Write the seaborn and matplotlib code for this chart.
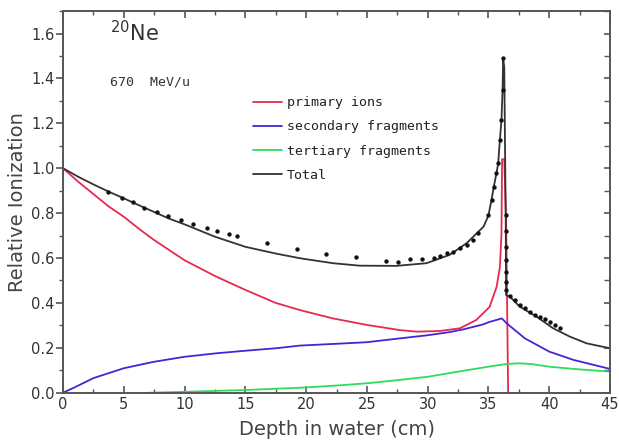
import numpy as np
import pandas as pd
import matplotlib
matplotlib.use("Agg")
import matplotlib.pyplot as plt
import matplotlib.lines as mlines
import seaborn as sns
from matplotlib.ticker import MultipleLocator

# ---- data ----
tot_x = [0, 1.25, 2.5, 3.87, 5, 6.25, 7.5, 8.75, 10, 12.5, 15, 17.5, 19.5, 22.2, 24.4,
         27.4, 29.9, 31.8, 33.2, 34.6, 35.0, 35.25, 35.44, 35.66, 35.80, 35.94, 36.07,
         36.16, 36.21, 36.3, 36.42, 36.45, 36.76, 37.58, 38.95, 40.32, 41.69, 43.07, 45]
tot_y = [1.0, 0.962, 0.928, 0.893, 0.866, 0.835, 0.805, 0.775, 0.75, 0.695, 0.65, 0.62,
         0.599, 0.577, 0.566, 0.565, 0.577, 0.614, 0.666, 0.74, 0.79, 0.859, 0.918, 0.978,
         1.022, 1.126, 1.215, 1.349, 1.49, 1.45, 0.77, 0.435, 0.428, 0.383, 0.339, 0.287,
         0.25, 0.22, 0.198]

prim_x = [0, 1.25, 2.5, 3.75, 5, 6.25, 7.5, 8.75, 10, 12.5, 15, 17.5, 19.5, 22.2, 25,
          27.7, 29.1, 31.0, 32.65, 34.0, 35.1, 35.67, 35.94, 36.07, 36.12, 36.3, 36.45, 36.62]
prim_y = [1.0, 0.94, 0.885, 0.83, 0.784, 0.73, 0.68, 0.635, 0.59, 0.52, 0.458, 0.40,
          0.368, 0.331, 0.302, 0.279, 0.272, 0.275, 0.287, 0.324, 0.383, 0.472, 0.56,
          0.71, 1.04, 1.04, 0.77, 0.0]

sec_x = [0, 1, 2.5, 5, 7.5, 10, 12.5, 15, 17.5, 19.5, 22.5, 25, 27.7, 30, 31.8, 33,
         34.6, 35, 36.1, 36.5, 38, 40, 42, 45]
sec_y = [0, 0.025, 0.065, 0.109, 0.138, 0.16, 0.175, 0.187, 0.198, 0.21, 0.218, 0.225,
         0.242, 0.256, 0.27, 0.283, 0.305, 0.314, 0.331, 0.309, 0.242, 0.183, 0.146, 0.106]

ter_x = [7.1, 10, 15, 19.5, 22.5, 25, 27.7, 30, 33.2, 35, 36.5, 37.5, 38.5, 40, 42, 45]
ter_y = [0.0, 0.004, 0.012, 0.022, 0.032, 0.042, 0.057, 0.071, 0.1, 0.116, 0.128, 0.131,
         0.128, 0.116, 0.106, 0.094]

dot_x = [3.73, 4.82, 5.79, 6.69, 7.70, 8.66, 9.70, 10.72, 11.82, 12.64, 13.68, 14.28,
         16.75, 19.22, 21.63, 24.1, 26.56, 27.57, 28.54, 29.5, 30.51, 31.0, 31.55, 32.1,
         32.65, 33.2, 33.74, 34.15, 34.98, 35.25, 35.44, 35.66, 35.80, 35.94, 36.07,
         36.16, 36.21, 36.43, 36.43, 36.43, 36.43, 36.43, 36.43, 36.45, 36.76, 37.17,
         37.58, 37.99, 38.40, 38.82, 39.23, 39.64, 40.05, 40.46, 40.87]
dot_y = [0.893, 0.869, 0.848, 0.824, 0.804, 0.787, 0.770, 0.752, 0.735, 0.72, 0.707, 0.698,
         0.668, 0.640, 0.618, 0.603, 0.588, 0.584, 0.596, 0.597, 0.602, 0.609, 0.621, 0.628,
         0.643, 0.658, 0.68, 0.71, 0.792, 0.859, 0.918, 0.978, 1.022, 1.126, 1.215,
         1.349, 1.49, 0.79, 0.72, 0.65, 0.59, 0.54, 0.495, 0.458, 0.431, 0.413,
         0.391, 0.376, 0.361, 0.346, 0.339, 0.327, 0.316, 0.302, 0.29]

series_names = ["primary ions", "secondary fragments", "tertiary fragments", "Total"]
series_colors = ["#e8294f", "#4a22d4", "#2fdc5e", "#333333"]

frames = []
for name, xs, ys in zip(series_names, [prim_x, sec_x, ter_x, tot_x],
                        [prim_y, sec_y, ter_y, tot_y]):
    frames.append(pd.DataFrame({"depth": xs, "ion": ys, "series": name}))
df = pd.concat(frames, ignore_index=True)
dots = pd.DataFrame({"depth": dot_x, "ion": dot_y})

sns.set_theme(style="ticks")
plt.rcParams["font.family"] = ["DejaVu Sans"]

fig = plt.figure(figsize=(6.19, 4.45), dpi=100)
ax = fig.add_axes([0.1018, 0.1175, 0.8837, 0.8575])

sns.lineplot(data=df, x="depth", y="ion", hue="series", hue_order=series_names,
             palette=series_colors, estimator=None, sort=False, linewidth=1.3, ax=ax)
sns.scatterplot(data=dots, x="depth", y="ion", color="#111111", s=10, linewidth=0,
                ax=ax, legend=False, zorder=5)

ax.set_xlim(0, 45)
ax.set_ylim(0, 1.7)
ax.xaxis.set_major_locator(MultipleLocator(5))
ax.xaxis.set_minor_locator(MultipleLocator(2.5))
ax.yaxis.set_major_locator(MultipleLocator(0.2))
ax.yaxis.set_minor_locator(MultipleLocator(0.1))
ax.yaxis.set_major_formatter(matplotlib.ticker.FormatStrFormatter("%.1f"))

for s in ax.spines.values():
    s.set_visible(True)
    s.set_color("#555555")
    s.set_linewidth(1.4)
ax.tick_params(axis="x", which="both", direction="in", top=True, bottom=True,
               color="#555555", labelsize=10.5, labelcolor="#333333", pad=3)
ax.tick_params(axis="x", which="major", length=5, width=1.2)
ax.tick_params(axis="x", which="minor", length=3, width=1.0)
ax.tick_params(axis="y", which="both", direction="out", left=True, right=True,
               labelright=False, color="#555555", labelsize=10.5,
               labelcolor="#333333", pad=1)
ax.tick_params(axis="y", which="major", length=5, width=1.2)
ax.tick_params(axis="y", which="minor", length=3, width=1.0)

ax.set_xlabel("Depth in water (cm)", fontsize=14, color="#444444", labelpad=6)
ax.set_ylabel("Relative Ionization", fontsize=14, color="#444444", labelpad=3)

ax.text(0.085, 0.945, r"$^{20}$Ne", transform=ax.transAxes, fontsize=15,
        color="#333333", va="center", ha="left")
ax.text(0.085, 0.815, "670  MeV/u", transform=ax.transAxes, fontsize=9.5,
        color="#333333", va="center", ha="left", family="DejaVu Sans Mono")

leg = ax.legend(loc="upper left", bbox_to_anchor=(0.325, 0.808), frameon=False,
                handlelength=2.2, handletextpad=0.4, labelspacing=0.85,
                prop={"family": "DejaVu Sans Mono", "size": 9.5})
for t in leg.get_texts():
    t.set_color("#222222")

# right-side ticks point inward (left ones stay outward)
fig.canvas.draw()
for tk in ax.yaxis.get_major_ticks() + ax.yaxis.get_minor_ticks():
    tk.tick2line.set_marker(mlines.TICKLEFT)
    tk.tick2line.set_markersize(4)

fig.savefig("out.png", dpi=100)
